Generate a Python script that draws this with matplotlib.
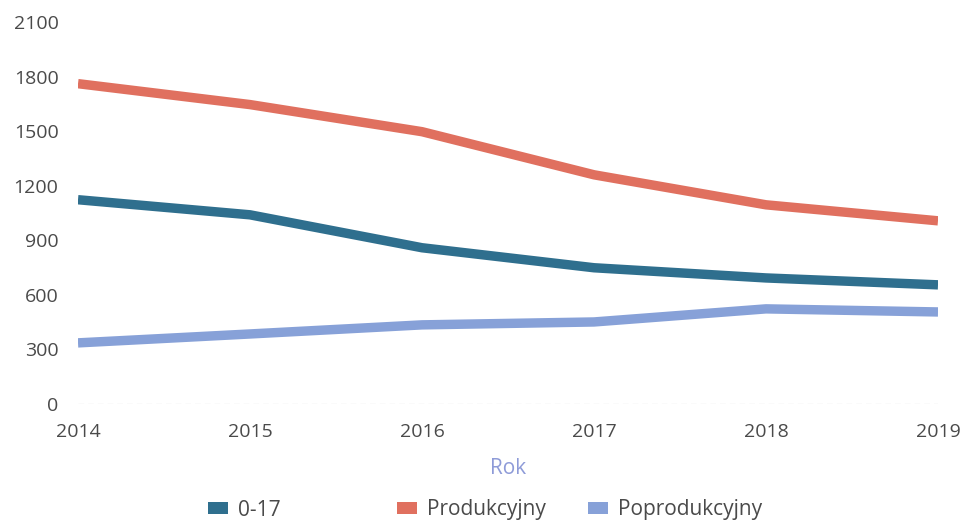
import matplotlib
matplotlib.use("Agg")
import matplotlib.pyplot as plt
from matplotlib.patches import Patch

years = [2014, 2015, 2016, 2017, 2018, 2019]
series_names = ["0-17", "Produkcyjny", "Poprodukcyjny"]
v_0_17 = [1123, 1040, 859, 749, 693, 655]
v_prod = [1761, 1646, 1497, 1260, 1095, 1007]
v_poprod = [336, 385, 435, 451, 523, 506]
y_ticks = [0, 300, 600, 900, 1200, 1500, 1800, 2100]

colors = ["#2f6f8e", "#e0705f", "#87a1d8"]

plt.rcParams['font.family'] = ['Open Sans', 'DejaVu Sans']

W, H = 964, 522
fig = plt.figure(figsize=(W / 100, H / 100), dpi=100)
ax = fig.add_axes([78 / W, 1 - 404 / H, (938 - 78) / W, (404 - 22) / H])

for vals, c in zip([v_0_17, v_prod, v_poprod], colors):
    ax.plot(years, vals, color=c, lw=6.8, solid_capstyle='butt', solid_joinstyle='round')

ax.set_xlim(years[0], years[-1])
ax.set_ylim(0, 2100)
ax.set_xticks(years)
ax.set_xticklabels([str(y) for y in years])
ax.set_yticks(y_ticks)
ax.set_yticklabels([str(t) for t in y_ticks])
ax.tick_params(axis='both', length=0, labelsize=14, labelcolor='#4a4a4a')
ax.tick_params(axis='y', pad=14)
ax.tick_params(axis='x', pad=14)
ax.axhline(0, color='#e6e6e6', lw=1, ls=(0, (4, 3)), zorder=0)
for s in ax.spines.values():
    s.set_visible(False)

ax.set_xlabel("Rok", fontsize=15, color='#8e9bd8', labelpad=12)

legend_x = [208 / W, 397 / W, 588 / W]
for name, c, lx in zip(series_names, colors, legend_x):
    leg = fig.legend(handles=[Patch(facecolor=c, edgecolor='none', label=name)],
                     loc='center left', bbox_to_anchor=(lx, 1 - 510 / H),
                     frameon=False, fontsize=15, handlelength=0.95, handleheight=0.5,
                     handletextpad=0.5, borderpad=0, borderaxespad=0)
    for t in leg.get_texts():
        t.set_color('#4a4a4a')

fig.savefig("out.png", dpi=100)
